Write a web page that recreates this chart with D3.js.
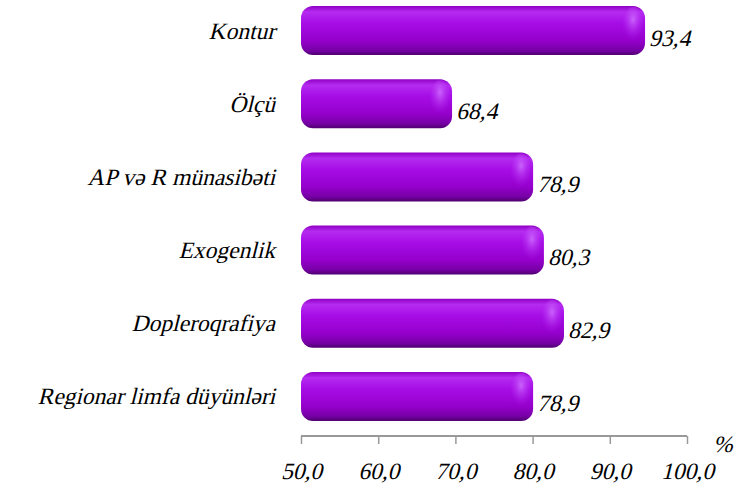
<!DOCTYPE html>
<html>
<head>
<meta charset="utf-8">
<script src="https://cdn.jsdelivr.net/npm/d3@7"></script>
<style>
  body { margin: 0; background: #fff; }
</style>
</head>
<body>
<svg id="chart" width="747" height="483"></svg>
<script>
// данные
const categories = ["Kontur", "Ölçü", "AP və R münasibəti", "Exogenlik", "Dopleroqrafiya", "Regionar limfa düyünləri"];
const values = [93.4, 68.4, 78.9, 80.3, 82.9, 78.9];
const ticks = [50, 60, 70, 80, 90, 100];

const FONT = "serif";
const FS = 23.5;
const SLANT = -14; // наклон вместо курсива
const fmt = v => v.toFixed(1).replace(".", ",");
const cap = 9; // объёмный торец столбца

// наклонный текст: переносим x,y в transform и добавляем skewX
function slant(sel) {
    sel.each(function () {
        const t = d3.select(this);
        const x = +t.attr("x") || 0;
        const y = +t.attr("y") || 0;
        t.attr("x", 0).attr("y", 0)
         .attr("transform", `translate(${x},${y}) skewX(${SLANT})`);
    });
}

const svg = d3.select("#chart");

const scX = d3.scaleLinear().domain([50, 100]).range([301, 687]);
const scY = d3.scaleBand()
    .domain(categories)
    .range([-6, 433])
    .paddingInner(0.33)
    .paddingOuter(0.165);

// градиенты для объёмных столбцов
const defs = svg.append("defs");
const g1 = defs.append("linearGradient").attr("id", "barGrad")
    .attr("x1", 0).attr("y1", 0).attr("x2", 0).attr("y2", 1);
[[0, "#8f00c4"], [0.12, "#b52bf0"], [0.35, "#a60de6"], [0.7, "#9500cc"], [0.9, "#7700a6"], [1, "#4f0070"]]
    .forEach(s => g1.append("stop").attr("offset", s[0]).attr("stop-color", s[1]));

const g2 = defs.append("radialGradient").attr("id", "capGrad")
    .attr("cx", 0.5).attr("cy", 0.35).attr("r", 0.6);
g2.append("stop").attr("offset", 0).attr("stop-color", "#d070ff").attr("stop-opacity", 0.85);
g2.append("stop").attr("offset", 1).attr("stop-color", "#b020f0").attr("stop-opacity", 0);

const data = categories.map((c, i) => ({ cat: c, val: values[i] }));

const bars = svg.append("g").selectAll("g").data(data).enter().append("g");

bars.append("rect")
    .attr("x", scX(50))
    .attr("y", d => scY(d.cat))
    .attr("width", d => scX(d.val) - scX(50) + cap)
    .attr("height", scY.bandwidth())
    .attr("rx", 12)
    .attr("fill", "url(#barGrad)");

// блик на закруглённом конце
bars.append("ellipse")
    .attr("cx", d => scX(d.val) + cap - 12)
    .attr("cy", d => scY(d.cat) + scY.bandwidth() * 0.38)
    .attr("rx", 10)
    .attr("ry", scY.bandwidth() * 0.36)
    .attr("fill", "url(#capGrad)");

// подписи значений
bars.append("text")
    .attr("x", d => scX(d.val) + cap + 4)
    .attr("y", d => scY(d.cat) + scY.bandwidth() / 2 + 15)
    .attr("font-family", FONT)
    .attr("font-size", FS)
    .text(d => fmt(d.val))
    .call(slant);

// подписи категорий
const catLabels = svg.append("g").selectAll("text").data(data).enter().append("text")
    .attr("x", 275)
    .attr("y", d => scY(d.cat) + scY.bandwidth() / 2 + 8)
    .attr("text-anchor", "end")
    .attr("font-family", FONT)
    .attr("font-size", FS)
    .text(d => d.cat)
    .call(slant);

// если самая длинная подпись не помещается слева — уменьшаем шрифт
let maxW = 0;
catLabels.each(function () { maxW = Math.max(maxW, this.getComputedTextLength()); });
if (maxW > 268) catLabels.attr("font-size", FS * 268 / maxW);

// ось X
const axisX = d3.axisBottom(scX).tickValues(ticks).tickFormat(fmt).tickSize(8).tickPadding(18);
const ax = svg.append("g")
    .attr("transform", "translate(0, 436)")
    .call(axisX)
    .attr("font-family", FONT)
    .attr("font-size", FS);
ax.select(".domain").attr("stroke", "#999").attr("stroke-width", 2).attr("d", `M${scX(50)},0H${scX(100)}`);
ax.selectAll(".tick line").attr("stroke", "#999").attr("stroke-width", 1.5);
ax.selectAll(".tick text")
    .attr("fill", "#000")
    .attr("dy", null)
    .attr("y", 26 + FS * 0.71)
    .call(slant);

svg.append("text")
    .attr("x", 713)
    .attr("y", 452)
    .attr("font-family", FONT)
    .attr("font-size", FS)
    .text("%")
    .call(slant);
</script>
</body>
</html>
